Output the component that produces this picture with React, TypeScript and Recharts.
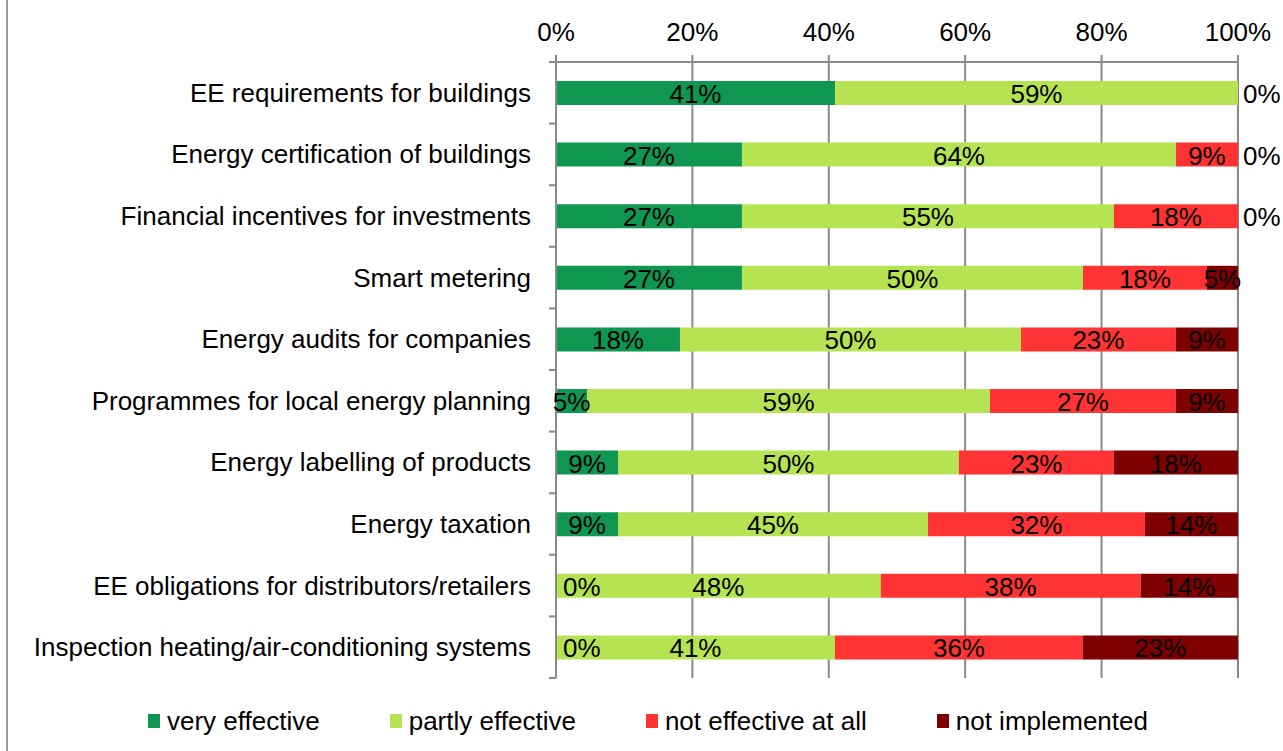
import React from "react";
import { BarChart, Bar, XAxis, YAxis, CartesianGrid, LabelList, Legend } from "recharts";

const categories = [
  "EE requirements for buildings",
  "Energy certification of buildings",
  "Financial incentives for investments",
  "Smart metering",
  "Energy audits for companies",
  "Programmes for local energy planning",
  "Energy labelling of products",
  "Energy taxation",
  "EE obligations for distributors/retailers",
  "Inspection heating/air-conditioning systems",
];

const veryEffective = [40.91, 27.27, 27.27, 27.27, 18.18, 4.55, 9.09, 9.09, 0, 0];
const partlyEffective = [59.09, 63.64, 54.55, 50, 50, 59.09, 50, 45.45, 47.62, 40.91];
const notEffective = [0, 9.09, 18.18, 18.18, 22.73, 27.27, 22.73, 31.82, 38.1, 36.36];
const notImplemented = [0, 0, 0, 4.55, 9.09, 9.09, 18.18, 13.64, 14.29, 22.73];

const xTicks = [0, 20, 40, 60, 80, 100];

const seriesNames = ["very effective", "partly effective", "not effective at all", "not implemented"];
const seriesKeys = ["very", "partly", "notEff", "notImpl"];
const seriesColors = ["#0F9650", "#B5E352", "#FF3333", "#7F0000"];
const seriesValues = [veryEffective, partlyEffective, notEffective, notImplemented];

const data = categories.map((name, i) => ({
  name,
  very: veryEffective[i],
  partly: partlyEffective[i],
  notEff: notEffective[i],
  notImpl: notImplemented[i],
}));

const W = 1283;
const H = 751;
const X_AXIS_H = 30;
const LEGEND_H = 30;
const PLOT_TOP = 62;
const PLOT_BOTTOM_GAP = 73;
const MARGIN = { top: PLOT_TOP - X_AXIS_H, right: 45, bottom: PLOT_BOTTOM_GAP - LEGEND_H, left: 0 };
const Y_AXIS_W = 556;
const HALF_BAND = (H - PLOT_TOP - PLOT_BOTTOM_GAP) / categories.length / 2;
const FONT = "'Liberation Sans', Arial, sans-serif";
const AXIS_COLOR = "#8a8a8a";

const YTick = (props: any) => {
  const { y, payload, index } = props;
  const ax = Y_AXIS_W;
  return (
    <g>
      <text
        x={ax - 25}
        y={y}
        textAnchor="end"
        dominantBaseline="central"
        fontSize={26}
        fontFamily={FONT}
        fill="#000"
      >
        {payload.value}
      </text>
      {index === 0 && (
        <line x1={ax - 7} x2={ax} y1={y - HALF_BAND} y2={y - HALF_BAND} stroke={AXIS_COLOR} strokeWidth={2} />
      )}
      <line x1={ax - 7} x2={ax} y1={y + HALF_BAND} y2={y + HALF_BAND} stroke={AXIS_COLOR} strokeWidth={2} />
    </g>
  );
};

const txt = (x: number, y: number, s: string, anchor: "middle" | "start", key: string) => (
  <text
    key={key}
    x={x}
    y={y}
    textAnchor={anchor}
    dominantBaseline="central"
    fontSize={26}
    fontFamily={FONT}
    fill="#000"
  >
    {s}
  </text>
);

const makeLabel = (seriesIndex: number) => (props: any) => {
  const { x, y, width, height, value } = props;
  const rowIdx = categories.indexOf(String(value));
  if (rowIdx < 0) return null;
  const v = seriesValues[seriesIndex][rowIdx];
  if (!v) return null;
  const nx = Number(x);
  const ny = Number(y);
  const nw = Number(width) || 0;
  const nh = Number(height);
  const cy = ny + nh / 2 + 1;
  const row = seriesValues.map((arr) => arr[rowIdx]);
  const nonZero = row.map((r, i) => (r ? i : -1)).filter((i) => i >= 0);
  const first = nonZero[0];
  const last = nonZero[nonZero.length - 1];
  const out: any[] = [txt(nx + nw / 2, cy, `${Math.round(v)}%`, "middle", "m")];
  if (seriesIndex === first && first > 0) {
    out.push(txt(nx + 7, cy, "0%", "start", "z0"));
  }
  if (seriesIndex === last && last < row.length - 1) {
    out.push(txt(nx + nw + 5, cy, "0%", "start", "z1"));
  }
  return <g>{out}</g>;
};

const LegendContent = () => (
  <div
    style={{
      display: "flex",
      alignItems: "center",
      paddingLeft: 148,
      fontFamily: FONT,
      fontSize: 26,
      color: "#000",
      lineHeight: `${LEGEND_H}px`,
      height: LEGEND_H,
    }}
  >
    {seriesNames.map((n, i) => (
      <div key={n} style={{ display: "flex", alignItems: "center", marginRight: 70 }}>
        <div style={{ width: 12, height: 14, background: seriesColors[i], marginRight: 7 }} />
        <span style={{ whiteSpace: "nowrap" }}>{n}</span>
      </div>
    ))}
  </div>
);

export default function App() {
  return (
    <div
      style={{
        position: "absolute",
        left: 0,
        top: 0,
        width: W,
        height: H,
        background: "#fff",
        overflow: "hidden",
      }}
    >
      <div style={{ position: "absolute", left: 6, top: 0, width: 2, height: H, background: "#9a9a9a" }} />
      <BarChart width={W} height={H} data={data} layout="vertical" margin={MARGIN} barSize={24}>
        <CartesianGrid horizontal={false} vertical={true} stroke={AXIS_COLOR} strokeWidth={2} />
        <XAxis
          type="number"
          orientation="top"
          domain={[0, 100]}
          ticks={xTicks}
          tickFormatter={(v: number) => `${v}%`}
          axisLine={{ stroke: AXIS_COLOR, strokeWidth: 2 }}
          tickLine={{ stroke: AXIS_COLOR, strokeWidth: 2 }}
          tickSize={7}
          tickMargin={14}
          height={X_AXIS_H}
          tick={{ fill: "#000", fontSize: 26, fontFamily: FONT }}
          interval={0}
        />
        <YAxis
          type="category"
          dataKey="name"
          width={Y_AXIS_W}
          axisLine={{ stroke: AXIS_COLOR, strokeWidth: 2 }}
          tickLine={false}
          tick={<YTick />}
          interval={0}
        />
        <Legend
          layout="vertical"
          align="center"
          verticalAlign="bottom"
          content={<LegendContent />}
          wrapperStyle={{ position: "absolute", top: 706, left: 0, width: W, bottom: "auto" }}
        />
        {seriesKeys.map((k, i) => (
          <Bar
            key={k}
            dataKey={k}
            name={seriesNames[i]}
            stackId="s"
            fill={seriesColors[i]}
            isAnimationActive={false}
          >
            <LabelList dataKey={(d: any) => d.name} content={makeLabel(i)} />
          </Bar>
        ))}
      </BarChart>
    </div>
  );
}
